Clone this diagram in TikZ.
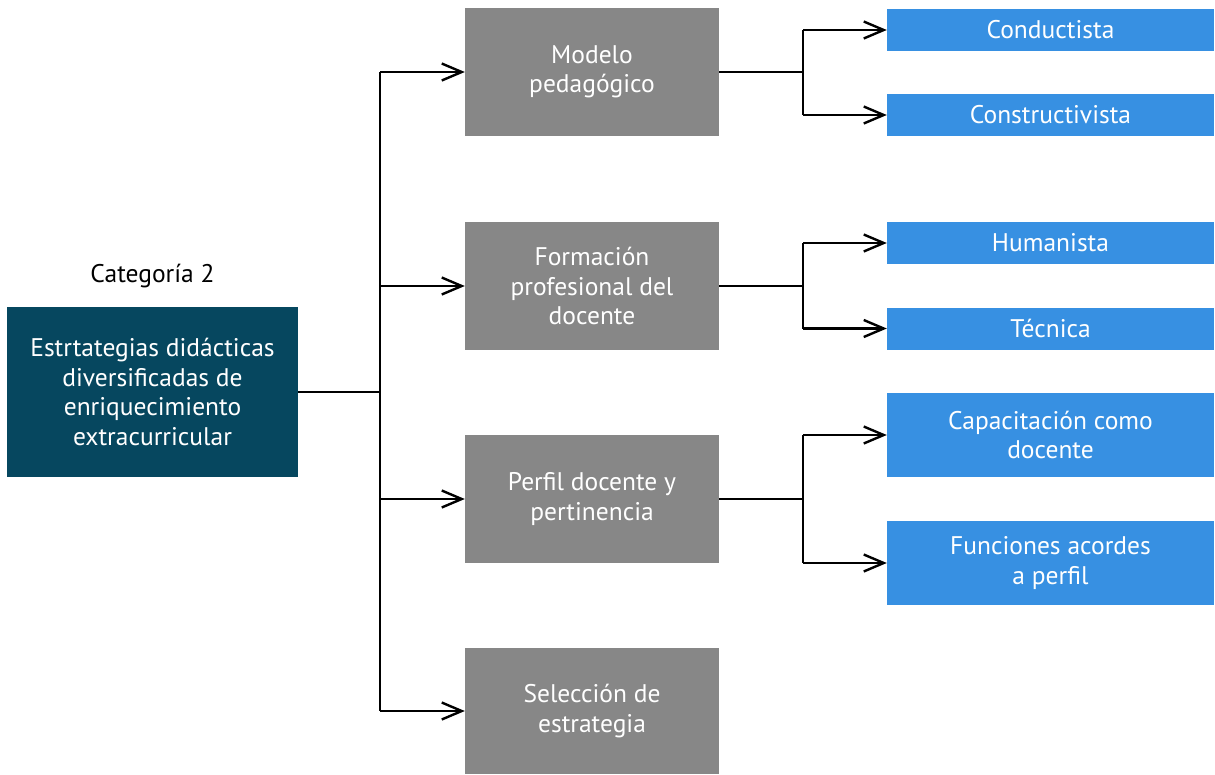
\documentclass[tikz,border=0pt]{standalone}
\usepackage{fontspec}
\setmainfont{PT Sans}
\usetikzlibrary{arrows.meta}
\definecolor{rootfill}{HTML}{06475F}
\definecolor{midfill}{HTML}{878787}
\definecolor{leaffill}{HTML}{3790E2}
\tikzset{
  box/.style={draw=none, inner sep=0pt, align=center, text=white,
    font=\fontsize{25.5}{29.5}\selectfont},
  rootbox/.style={box, fill=rootfill, minimum width=291pt, minimum height=170pt},
  midbox/.style={box, fill=midfill, minimum width=254pt, minimum height=128pt},
  leafbox/.style={box, fill=leaffill, minimum width=327pt},
  link/.style={line width=2.4pt, black},
  arr/.style={link, -{Straight Barb[length=20pt, width=17pt, line width=2.4pt]}}
}
\begin{document}
\begin{tikzpicture}[x=1pt, y=-1pt]
  \useasboundingbox (0,0) rectangle (1215,774);
  % root and its caption
  \node[rootbox] (root) at (152.5,392) {Estrtategias didácticas\\diversificadas de\\enriquecimiento\\extracurricular};
  \node[font=\fontsize{25.5}{29}\selectfont, inner sep=0pt] (cat) at (152.5,276) {Categoría 2};
  % second level
  \node[midbox] (m1) at (592,72) {Modelo\\pedagógico};
  \node[midbox] (m2) at (592,286) {Formación\\profesional del\\docente};
  \node[midbox] (m3) at (592,499) {Perfil docente y\\pertinencia};
  \node[midbox, minimum height=126pt] (m4) at (592,711) {Selección de\\estrategia};
  % third level
  \node[leafbox, minimum height=42pt] (l1) at (1050.5,30) {Conductista};
  \node[leafbox, minimum height=42pt] (l2) at (1050.5,115) {Constructivista};
  \node[leafbox, minimum height=42pt] (l3) at (1050.5,243) {Humanista};
  \node[leafbox, minimum height=42pt] (l4) at (1050.5,328.5) {Técnica};
  \node[leafbox, minimum height=84pt] (l5) at (1050.5,435) {Capacitación como\\docente};
  \node[leafbox, minimum height=84pt] (l6) at (1050.5,563) {Funciones acordes\\a perfil};
  % trunk from the root
  \coordinate (t) at (380,392);
  \draw[link] (root.east) -- (t);
  \draw[link] (t |- m1.west) -- (t |- m4.west);
  \foreach \m in {m1,m2,m3,m4} \draw[arr] (t |- \m.west) -- (\m.west);
  % forks towards the leaves
  \foreach \m/\a/\b in {m1/l1/l2, m2/l3/l4, m3/l5/l6} {
    \coordinate (f) at ([xshift=84pt]\m.east);
    \draw[link] (\m.east) -- (f);
    \draw[link] (f |- \a.west) -- (f |- \b.west);
    \draw[arr] (f |- \a.west) -- (\a.west);
    \draw[arr] (f |- \b.west) -- (\b.west);
  }
\end{tikzpicture}
\end{document}
